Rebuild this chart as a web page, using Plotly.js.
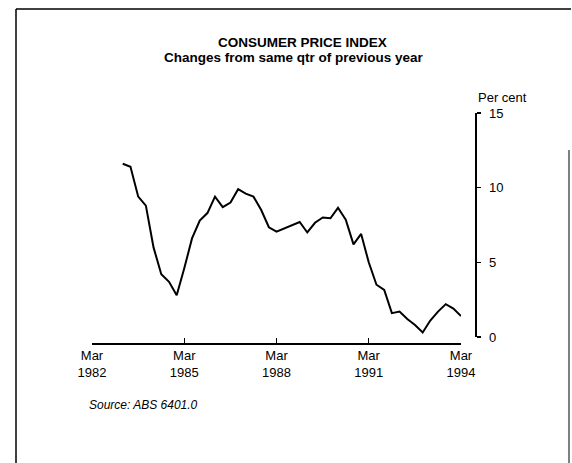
<!DOCTYPE html>
<html>
<head>
<meta charset="utf-8">
<script src="https://cdn.plot.ly/plotly-3.0.1.min.js"></script>
<style>html,body{margin:0;padding:0;background:#fff;}#chart{width:572px;height:463px;}</style>
</head>
<body>
<div id="chart"></div>
<script>
// Quarterly dates (Mar 1983 .. Mar 1994)
const quarters = [
  '1983-03-01','1983-06-01','1983-09-01','1983-12-01',
  '1984-03-01','1984-06-01','1984-09-01','1984-12-01',
  '1985-03-01','1985-06-01','1985-09-01','1985-12-01',
  '1986-03-01','1986-06-01','1986-09-01','1986-12-01',
  '1987-03-01','1987-06-01','1987-09-01','1987-12-01',
  '1988-03-01','1988-06-01','1988-09-01','1988-12-01',
  '1989-03-01','1989-06-01','1989-09-01','1989-12-01',
  '1990-03-01','1990-06-01','1990-09-01','1990-12-01',
  '1991-03-01','1991-06-01','1991-09-01','1991-12-01',
  '1992-03-01','1992-06-01','1992-09-01','1992-12-01',
  '1993-03-01','1993-06-01','1993-09-01','1993-12-01',
  '1994-03-01'
];
// Per cent change from same quarter of previous year
const cpiChange = [
  11.6, 11.4, 9.4, 8.8,
  6.0, 4.2, 3.7, 2.8,
  4.6, 6.6, 7.8, 8.3,
  9.4, 8.7, 9.0, 9.9,
  9.6, 9.4, 8.5, 7.35,
  7.05, 7.25, 7.5, 7.7,
  7.0, 7.65, 8.0, 7.95,
  8.65, 7.85, 6.2, 6.9,
  5.0, 3.5, 3.15, 1.6,
  1.7, 1.2, 0.8, 0.3,
  1.1, 1.7, 2.2, 1.9,
  1.4
];
const xTickVals = ['1982-03-01','1985-03-01','1988-03-01','1991-03-01','1994-03-01'];
const xTickText = ['Mar<br>1982','Mar<br>1985','Mar<br>1988','Mar<br>1991','Mar<br>1994'];
const yTickVals = [0, 5, 10, 15];
const yTickText = ['0', '5', '10', '15'];

// layout geometry (pixels)
const W = 572, H = 463;
const L = 92, R = 475, T = 113, B = 343;
const pw = R - L, ph = B - T;
const px = v => (v - L) / pw;
const py = v => (B - v) / ph;

const font = 'Liberation Sans, Arial, Helvetica, sans-serif';

const data = [{
  type: 'scatter', mode: 'lines',
  x: quarters, y: cpiChange,
  line: {color: '#000', width: 2},
  hoverinfo: 'skip'
}];

const layout = {
  width: W, height: H,
  margin: {l: L, r: W - R, t: T, b: H - B, pad: 0},
  paper_bgcolor: '#fff', plot_bgcolor: '#fff',
  showlegend: false,
  font: {family: font, color: '#000', size: 13},
  xaxis: {
    type: 'date',
    domain: [0, px(461)],
    range: ['1982-03-01', '1994-03-01'],
    anchor: 'free', position: 0,
    tickmode: 'array', tickvals: xTickVals, ticktext: xTickText,
    ticks: 'inside', ticklen: 5, tickwidth: 1.5, tickcolor: '#000',
    showline: true, linecolor: '#000', linewidth: 1.5,
    showgrid: false, zeroline: false,
    tickfont: {family: font, size: 13, color: '#000'}
  },
  yaxis: {
    domain: [py(337), 1],
    range: [0, 15],
    anchor: 'free', position: 1, side: 'right',
    tickmode: 'array', tickvals: yTickVals, ticktext: yTickText,
    ticks: 'outside', ticklen: 4, tickwidth: 1.5, tickcolor: '#000',
    ticklabelstandoff: 6,
    showline: true, linecolor: '#000', linewidth: 1.5,
    showgrid: false, zeroline: false,
    tickfont: {family: font, size: 13, color: '#000'}
  },
  annotations: [
    {xref: 'paper', yref: 'paper', x: px(302), y: py(42), text: '<b>CONSUMER PRICE INDEX</b>',
     showarrow: false, xanchor: 'center', yanchor: 'middle', font: {family: font, size: 13.5, color: '#000'}},
    {xref: 'paper', yref: 'paper', x: px(294), y: py(57), text: '<b>Changes from same qtr of previous year</b>',
     showarrow: false, xanchor: 'center', yanchor: 'middle', font: {family: font, size: 13.5, color: '#000'}},
    {xref: 'paper', yref: 'paper', x: px(503), y: py(98), text: 'Per cent',
     showarrow: false, xanchor: 'center', yanchor: 'middle', font: {family: font, size: 13, color: '#000'}},
    {xref: 'paper', yref: 'paper', x: px(87), y: py(405), text: '<i>Source: ABS 6401.0</i>',
     showarrow: false, xanchor: 'left', yanchor: 'middle', font: {family: font, size: 12, color: '#000'}}
  ],
  shapes: [
    {type: 'line', xref: 'paper', yref: 'paper', x0: px(16), x1: px(16), y0: py(9), y1: py(470), line: {color: '#000', width: 1.5}},
    {type: 'line', xref: 'paper', yref: 'paper', x0: px(16), x1: px(571), y0: py(9), y1: py(9), line: {color: '#000', width: 1.5}},
    {type: 'line', xref: 'paper', yref: 'paper', x0: px(569), x1: px(569), y0: py(150), y1: py(470), line: {color: '#000', width: 1}}
  ]
};

Plotly.newPlot('chart', data, layout, {staticPlot: true, displayModeBar: false});
</script>
</body>
</html>
